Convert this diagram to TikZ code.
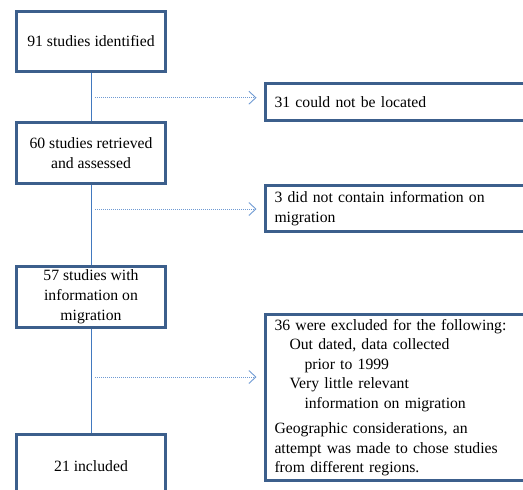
\documentclass[tikz,border=0pt]{standalone}
\usepackage{fontspec}
\setmainfont{Liberation Serif}
\usetikzlibrary{arrows.meta,calc}
\definecolor{boxblue}{HTML}{3C5F8C}
\definecolor{lineblue}{HTML}{4279BF}
\definecolor{dotblue}{HTML}{6F9AD3}
\tikzset{
  lbox/.style={draw=boxblue, line width=3pt, fill=white, minimum width=149pt, inner sep=0pt, align=center, font=\fontsize{15.7}{20}\selectfont},
  rbox/.style={draw=boxblue, line width=3pt, fill=white, text width=257.5pt, inner xsep=9.5pt, inner ysep=0pt, align=left, anchor=west, font=\fontsize{15.7}{20}\selectfont},
  vline/.style={draw=lineblue, line width=1pt},
  excl/.style={draw=dotblue, line width=1pt, dash pattern=on 1pt off 1pt, -{Straight Barb[length=7pt,width=13pt,line width=0.9pt]}, shorten >=7pt}
}
\begin{document}
\begin{tikzpicture}[x=1pt,y=-1pt]
\useasboundingbox (0,0) rectangle (523,490);
\clip (0,0) rectangle (523,490);
% left column
\node[lbox, minimum height=60pt] (b1) at (91,41.5) {91 studies identified};
\node[lbox, minimum height=61pt] (b2) at (91,153) {60 studies retrieved\\and assessed};
\node[lbox, minimum height=61pt] (b3) at (91,297) {57 studies with\\information on\\migration};
\node[lbox, minimum height=64pt] (b4) at (91,466.5) {21 included};
% right column
\node[rbox, minimum height=37pt] (r1) at (263.5,102) {31 could not be located};
\node[rbox, minimum height=46pt] (r2) at (263.5,208.5) {3 did not contain information on\\migration};
\node[rbox, minimum height=166pt, font=\fontsize{15.7}{19.5}\selectfont] (r3) at (263.5,397.5) {36 were excluded for the following:\\
\hspace*{15pt}Out dated, data collected\\
\hspace*{30pt}prior to 1999\\
\hspace*{15pt}Very little relevant\\
\hspace*{30pt}information on migration\\[6pt]
Geographic considerations, an\\
attempt was made to chose studies\\
from different regions.};
% vertical flow
\draw[vline] (b1.south) -- (b2.north);
\draw[vline] (b2.south) -- (b3.north);
\draw[vline] (b3.south) -- (b4.north);
% exclusion arrows
\coordinate (a1) at (95,97.7);
\coordinate (a2) at (95,209);
\coordinate (a3) at (95,377);
\draw[excl] (a1) -- (a1 -| r1.west);
\draw[excl] (a2) -- (a2 -| r2.west);
\draw[excl] (a3) -- (a3 -| r3.west);
\end{tikzpicture}
\end{document}
